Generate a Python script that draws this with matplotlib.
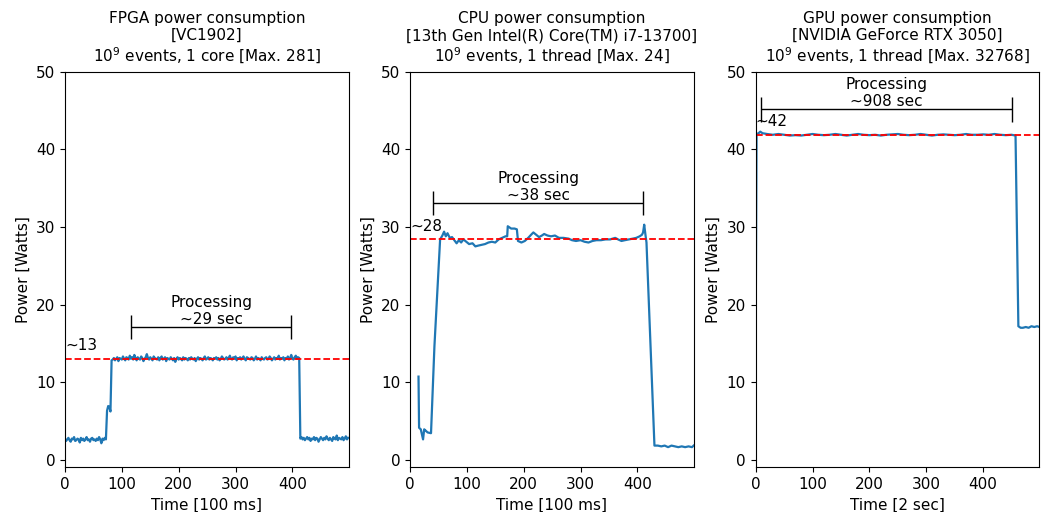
import numpy as np
import matplotlib
matplotlib.use('Agg')
import matplotlib.pyplot as plt

# ---------------------------------------------------------------------------- #
#                                     DATA                                     #
# ---------------------------------------------------------------------------- #
# FPGA trace, one value every 2 samples (100 ms units)
fpga_time = np.arange(0, 500, 2)
fpga_idle_before = [2.7, 2.4, 2.6, 2.8, 2.5, 2.3, 2.7, 2.6, 2.9, 2.4, 2.5, 2.7, 2.6,
                    2.2, 2.8, 2.5, 2.7, 2.4, 2.6, 2.9, 2.5, 2.6, 2.3, 2.7, 2.8, 2.5,
                    2.6, 2.4, 2.7, 2.5, 2.9, 2.6, 2.1, 2.7, 2.5, 2.8, 2.6]
fpga_ramp = [6.3, 6.9, 6.8, 6.2, 12.8]
fpga_busy = [12.9, 13.1, 12.8, 13.0, 13.2, 12.7, 13.1, 13.0, 12.9, 13.3, 13.0, 12.8, 13.2, 13.1, 12.9,
             13.4, 13.0, 13.2, 12.9, 13.5, 13.1, 12.8, 13.2, 13.0, 12.9, 13.3, 13.1, 12.7, 13.0, 13.2,
             13.6, 13.1, 12.9, 13.2, 13.0, 12.8, 13.3, 13.1, 13.0, 12.9, 13.2, 12.8, 13.1, 13.3, 12.9,
             13.0, 13.2, 12.7, 13.1, 13.0, 12.9, 13.2, 13.0, 12.8, 13.1, 12.6, 13.0, 13.2, 12.9, 13.1,
             13.0, 12.8, 13.2, 12.9, 13.1, 13.0, 12.8, 13.1, 12.9, 13.2, 13.0, 12.9, 13.1, 12.7, 13.0,
             13.2, 12.9, 13.1, 13.0, 12.8, 13.1, 13.3, 12.9, 13.0, 13.2, 12.9, 13.1, 13.0, 12.8, 13.1,
             13.0, 13.2, 12.9, 13.1, 12.8, 13.0, 13.3, 13.1, 12.9, 13.0, 13.2, 12.9, 13.1, 13.4, 13.0,
             12.9, 13.2, 13.0, 13.3, 12.8, 13.1, 13.0, 13.2, 12.9, 13.1, 13.3, 13.0, 12.8, 13.2, 13.1,
             13.0, 12.9, 13.2, 13.1, 12.8, 13.0, 13.3, 12.9, 13.1, 13.0, 12.8, 13.2, 13.0, 12.9, 13.1,
             13.2, 12.9, 13.0, 13.3, 13.1, 12.8, 13.0, 13.2, 12.9, 13.1, 13.0, 13.4, 12.9, 13.1, 13.0,
             13.2, 12.8, 13.1, 13.0, 13.3, 12.9, 13.1, 13.5, 13.0, 12.9, 13.2, 13.4, 13.0, 13.2, 13.1]
fpga_idle_after = [2.7, 2.9, 2.6, 2.8, 2.5, 2.7, 2.9, 2.6, 2.8, 2.4, 2.7, 2.6, 2.9, 2.5,
                   2.8, 2.7, 2.3, 2.6, 2.9, 2.7, 2.5, 2.8, 2.6, 3.0, 2.7, 2.5, 2.8, 2.6,
                   2.4, 2.9, 2.7, 2.6, 3.1, 2.5, 2.8, 2.7, 2.6, 2.9, 2.5, 2.7, 3.0, 2.6, 2.8]
fpga_power = fpga_idle_before + fpga_ramp + fpga_busy + fpga_idle_after

# CPU trace (100 ms units)
cpu_time = [15, 16, 19, 23, 25, 28, 31, 37, 43, 53, 57, 60, 63, 66, 70, 74, 78, 82, 86,
            90, 94, 99, 104, 110, 115, 120, 126, 132, 138, 144, 150, 156, 162, 168, 171,
            172, 178, 184, 188, 190, 196, 202, 208, 213, 217, 222, 227, 232, 236, 242,
            248, 255, 262, 270, 279, 285, 292, 300, 307, 314, 321, 328, 336, 344, 352,
            361, 366, 372, 378, 385, 392, 398, 404, 408, 410, 412, 414, 416, 430, 436,
            442, 448, 454, 460, 466, 472, 478, 484, 490, 496, 499]
cpu_power = [10.7, 4.1, 3.9, 2.6, 3.9, 3.7, 3.5, 3.4, 14.6, 28.4, 28.9, 29.4, 28.8, 29.2,
             28.6, 28.7, 28.3, 27.9, 28.3, 28.0, 28.4, 28.1, 27.8, 27.9, 27.5, 27.6, 27.7,
             27.8, 28.0, 28.1, 28.0, 28.4, 28.6, 28.8, 28.8, 30.1, 29.8, 29.8, 29.7, 28.2,
             28.0, 28.2, 28.6, 29.0, 29.3, 29.0, 28.7, 28.9, 29.1, 28.9, 28.8, 28.9, 28.6,
             28.6, 28.5, 28.3, 28.2, 28.3, 28.1, 28.0, 28.2, 28.3, 28.3, 28.4, 28.4, 28.6,
             28.4, 28.2, 28.3, 28.4, 28.5, 28.6, 28.8, 29.0, 29.3, 30.3, 29.1, 28.0, 1.8,
             1.8, 1.7, 1.8, 1.6, 1.8, 1.7, 1.6, 1.7, 1.6, 1.7, 1.6, 1.8]

# GPU trace (2 sec units)
gpu_time = [0, 1.5, 5, 8, 12, 20, 30, 40, 50, 60, 70, 80, 90, 100, 110, 120, 130, 140,
            150, 160, 170, 180, 190, 200, 210, 220, 230, 240, 250, 260, 270, 280, 290,
            300, 310, 320, 330, 340, 350, 360, 370, 380, 390, 400, 410, 420, 430, 440,
            450, 457, 462, 466, 470, 475, 480, 485, 490, 495, 499]
gpu_power = [17.2, 42.0, 42.1, 42.3, 42.1, 42.0, 41.9, 42.0, 41.9, 41.8, 41.85, 41.8,
             41.9, 42.0, 41.9, 41.85, 41.9, 42.0, 41.9, 41.8, 41.9, 42.0, 41.9, 41.85,
             41.9, 41.8, 41.9, 41.95, 42.0, 41.9, 41.85, 41.9, 42.0, 41.9, 41.8, 41.9,
             41.95, 41.9, 41.85, 41.9, 42.0, 41.9, 41.9, 41.95, 41.9, 42.0, 41.9, 41.85,
             41.9, 41.8, 17.2, 17.0, 17.0, 17.1, 17.0, 17.2, 17.1, 17.2, 17.1]

titles = ['FPGA power consumption\n[VC1902]\n$10^9$ events, 1 core [Max. 281]',
          'CPU power consumption\n[13th Gen Intel(R) Core(TM) i7-13700]\n$10^9$ events, 1 thread [Max. 24]',
          'GPU power consumption\n[NVIDIA GeForce RTX 3050]\n$10^9$ events, 1 thread [Max. 32768]']
xlabels = ['Time [100 ms]', 'Time [100 ms]', 'Time [2 sec]']
mean_levels = [13.0, 28.4, 41.9]
level_labels = ['~13', '~28', '~42']
proc_start = [116, 41, 9.3]
proc_end = [398, 410.6, 450]
proc_height = [17.1, 33.1, 45.2]
proc_labels = ['Processing\n~29 sec', 'Processing\n~38 sec', 'Processing\n~908 sec']

# ---------------------------------------------------------------------------- #
#                                     PLOTS                                    #
# ---------------------------------------------------------------------------- #
plt.rc('font', size=11)
plt.rc('axes', linewidth=0.8)
fig = plt.figure(figsize=(10.48, 5.12), dpi=100)
lefts = [0.0620, 0.3912, 0.7211]
axes = [fig.add_axes([l, 0.0873, 0.2707, 0.7721]) for l in lefts]

series = [(fpga_time, fpga_power), (cpu_time, cpu_power), (gpu_time, gpu_power)]
for i, ax in enumerate(axes):
    t, p = series[i]
    ax.plot(t, p, color='C0', lw=1.6)
    ax.axhline(mean_levels[i], color='red', ls='--', lw=1.3)
    ax.text(0, mean_levels[i] + 0.7, level_labels[i], ha='left', va='bottom')
    # processing bracket
    yb = proc_height[i]
    ax.hlines(yb, proc_start[i], proc_end[i], color='k', lw=1)
    ax.vlines([proc_start[i], proc_end[i]], yb - 1.6, yb + 1.6, color='k', lw=1)
    ax.text((proc_start[i] + proc_end[i]) / 2, yb, proc_labels[i],
            ha='center', va='bottom')
    ax.set_xlim(0, 499)
    ax.set_ylim(-1, 50)
    ax.set_xticks([0, 100, 200, 300, 400])
    ax.set_yticks([0, 10, 20, 30, 40, 50])
    ax.set_title(titles[i], fontsize=11, pad=7)
    ax.set_xlabel(xlabels[i])
    ax.set_ylabel('Power [Watts]')

plt.savefig('out.png', dpi=100)
